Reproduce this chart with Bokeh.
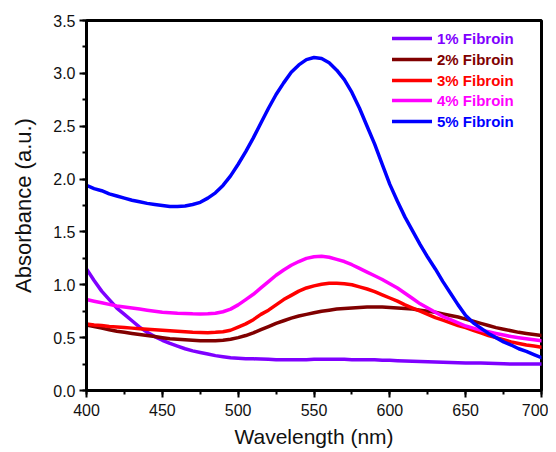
from bokeh.plotting import figure
from bokeh.models import (Range1d, SingleIntervalTicker, PrintfTickFormatter,
                          Legend, LegendItem)
from bokeh.embed import file_html
from bokeh.resources import INLINE

# ---- data, wavelength step 5 nm ----
wavelength = list(range(400, 701, 5))

fibroin_1 = [1.15, 1.04, 0.94, 0.86, 0.78, 0.72, 0.66, 0.60, 0.55, 0.51,          # 400-445
             0.475, 0.445, 0.42, 0.395, 0.375, 0.36, 0.345, 0.33, 0.32, 0.31,     # 450-495
             0.305, 0.30, 0.30, 0.297, 0.295, 0.292, 0.29, 0.29, 0.29, 0.292,     # 500-545
             0.295, 0.295, 0.295, 0.295, 0.295, 0.292, 0.29, 0.29, 0.29, 0.287,   # 550-595
             0.285, 0.282, 0.28, 0.277, 0.275, 0.272, 0.27, 0.267, 0.265, 0.262,  # 600-645
             0.26, 0.26, 0.26, 0.257, 0.255, 0.252, 0.25, 0.25, 0.25, 0.25,       # 650-695
             0.25]                                                                # 700
fibroin_2 = [0.62, 0.605, 0.59, 0.575, 0.56, 0.55, 0.54, 0.53, 0.52, 0.51,
             0.50, 0.49, 0.485, 0.48, 0.475, 0.47, 0.47, 0.47, 0.475, 0.485,
             0.50, 0.52, 0.545, 0.575, 0.605, 0.635, 0.66, 0.685, 0.705, 0.72,
             0.735, 0.75, 0.76, 0.77, 0.775, 0.78, 0.785, 0.79, 0.79, 0.79,
             0.785, 0.78, 0.775, 0.77, 0.76, 0.75, 0.74, 0.725, 0.71, 0.695,
             0.675, 0.655, 0.635, 0.615, 0.595, 0.58, 0.565, 0.55, 0.54, 0.53,
             0.52]
fibroin_3 = [0.63, 0.62, 0.615, 0.605, 0.60, 0.595, 0.59, 0.585, 0.58, 0.575,
             0.57, 0.565, 0.56, 0.555, 0.55, 0.548, 0.547, 0.55, 0.555, 0.57,
             0.60, 0.63, 0.67, 0.72, 0.76, 0.81, 0.86, 0.90, 0.94, 0.97,
             0.99, 1.005, 1.015, 1.015, 1.01, 1.00, 0.98, 0.96, 0.935, 0.905,
             0.875, 0.845, 0.81, 0.78, 0.75, 0.72, 0.69, 0.665, 0.64, 0.615,
             0.595, 0.57, 0.545, 0.52, 0.50, 0.48, 0.46, 0.445, 0.43, 0.42,
             0.41]
fibroin_4 = [0.86, 0.845, 0.83, 0.815, 0.80, 0.79, 0.78, 0.77, 0.76, 0.75,
             0.74, 0.735, 0.73, 0.728, 0.725, 0.724, 0.725, 0.73, 0.745, 0.77,
             0.81, 0.86, 0.91, 0.97, 1.03, 1.09, 1.14, 1.185, 1.22, 1.25,
             1.265, 1.27, 1.26, 1.24, 1.22, 1.19, 1.155, 1.12, 1.085, 1.05,
             1.01, 0.97, 0.92, 0.87, 0.82, 0.78, 0.74, 0.70, 0.67, 0.64,
             0.61, 0.59, 0.57, 0.555, 0.54, 0.525, 0.51, 0.50, 0.49, 0.48,
             0.47]
fibroin_5 = [1.94, 1.91, 1.89, 1.86, 1.84, 1.82, 1.80, 1.785, 1.77, 1.76,
             1.75, 1.74, 1.74, 1.745, 1.76, 1.78, 1.82, 1.87, 1.94, 2.03,
             2.14, 2.26, 2.39, 2.53, 2.67, 2.80, 2.91, 3.01, 3.08, 3.13,
             3.15, 3.14, 3.10, 3.03, 2.94, 2.82, 2.67, 2.50, 2.33, 2.14,
             1.95, 1.79, 1.64, 1.51, 1.38, 1.26, 1.15, 1.03, 0.92, 0.81,
             0.71, 0.64, 0.59, 0.54, 0.50, 0.46, 0.43, 0.395, 0.37, 0.34,
             0.31]

series_labels = ["1% Fibroin", "2% Fibroin", "3% Fibroin", "4% Fibroin", "5% Fibroin"]
series_values = [fibroin_1, fibroin_2, fibroin_3, fibroin_4, fibroin_5]
series_colors = ["#7F00FF", "#800000", "#FF0000", "#FF00FF", "#0000FF"]

FONT = "Liberation Sans"

p = figure(width=548, height=450, output_backend="svg", toolbar_location=None,
           x_range=Range1d(400, 700), y_range=Range1d(0, 3.5),
           min_border_left=86, min_border_right=7, min_border_top=20,
           min_border_bottom=60)

p.xgrid.visible = False
p.ygrid.visible = False
p.outline_line_color = "black"
p.outline_line_width = 3
p.background_fill_color = "white"
p.border_fill_color = "white"

p.xaxis.ticker = SingleIntervalTicker(interval=50, num_minor_ticks=2)
p.yaxis.ticker = SingleIntervalTicker(interval=0.5, num_minor_ticks=2)
p.yaxis.formatter = PrintfTickFormatter(format="%.1f")

for ax in (p.xaxis, p.yaxis):
    ax.axis_line_width = 3
    ax.axis_line_color = "black"
    ax.major_tick_line_width = 2
    ax.minor_tick_line_width = 2
    ax.major_tick_out = 7
    ax.major_tick_in = 0
    ax.minor_tick_out = 4
    ax.minor_tick_in = 0
    ax.major_label_text_font = FONT
    ax.major_label_text_font_size = "16px"
    ax.major_label_text_color = "#111111"
    ax.axis_label_text_font = FONT
    ax.axis_label_text_font_style = "normal"
    ax.axis_label_text_color = "#111111"

p.xaxis.axis_label = "Wavelength (nm)"
p.xaxis.axis_label_text_font_size = "21px"
p.xaxis.major_label_standoff = 6
p.xaxis.axis_label_standoff = 6
p.yaxis.axis_label = "Absorbance (a.u.)"
p.yaxis.axis_label_text_font_size = "22px"
p.yaxis.major_label_standoff = 4
p.yaxis.axis_label_standoff = 14

renderers = []
for vals, col in zip(series_values, series_colors):
    r = p.line(wavelength, vals, line_color=col, line_width=3.5,
               line_join="round", line_cap="round")
    renderers.append(r)

legend_y = [342, 321, 300, 280, 259]
for lab, col, r, ly in zip(series_labels, series_colors, renderers, legend_y):
    lg = Legend(items=[LegendItem(label=lab, renderers=[r])],
                location=(306, ly), padding=0, margin=0, spacing=0,
                glyph_width=40, glyph_height=20, label_height=20,
                label_standoff=5, border_line_color=None,
                background_fill_alpha=0,
                label_text_font=FONT, label_text_font_size="15px",
                label_text_font_style="bold", label_text_color=col)
    p.add_layout(lg, "center")

open("out.html", "w").write(file_html(p, INLINE))
